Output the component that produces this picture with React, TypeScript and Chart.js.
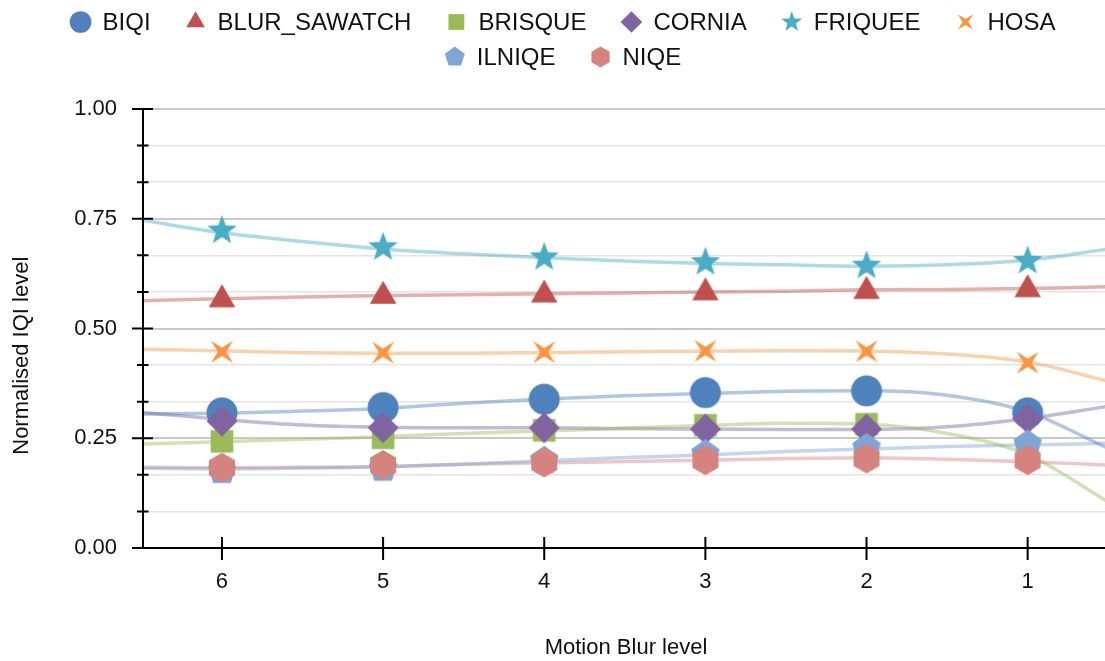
import React, { useEffect, useRef } from 'react';
import { Chart, registerables } from 'chart.js';

Chart.register(...registerables);

// ---------- data ----------
const METHODS = ['BIQI', 'BLUR_SAWATCH', 'BRISQUE', 'CORNIA', 'FRIQUEE', 'HOSA', 'ILNIQE', 'NIQE'];
const COLORS = ['#4F81BD', '#C0504D', '#9BBB59', '#8064A2', '#4BACC6', '#F79646', '#7FA5D5', '#D5837F'];
const SHAPES = ['circle', 'triangle', 'square', 'diamond', 'star', 'star4', 'pentagon', 'hexagon'];

const BLUR_LEVELS = [6, 5, 4, 3, 2, 1];
const X_TICK_LABELS = ['6', '5', '4', '3', '2', '1'];

const BIQI = [0.308, 0.320, 0.339, 0.354, 0.358, 0.308];
const BLUR_SAWATCH = [0.566, 0.574, 0.577, 0.582, 0.585, 0.589];
const BRISQUE = [0.243, 0.251, 0.268, 0.2795, 0.282, 0.225];
const CORNIA = [0.289, 0.274, 0.274, 0.271, 0.271, 0.295];
const FRIQUEE = [0.723, 0.685, 0.662, 0.651, 0.643, 0.654];
const HOSA = [0.447, 0.445, 0.446, 0.449, 0.448, 0.422];
const ILNIQE = [0.176, 0.181, 0.199, 0.214, 0.228, 0.236];
const NIQE = [0.183, 0.189, 0.195, 0.200, 0.204, 0.200];

// fitted trend curves
const FIT_X = [6.5, 6, 5.5, 5, 4.5, 4, 3.5, 3, 2.5, 2, 1.5, 1, 0.5];
const BIQI_FIT = [0.305, 0.307, 0.312, 0.318, 0.330, 0.339, 0.347, 0.352, 0.357, 0.358, 0.348, 0.310, 0.227];
const BLUR_SAWATCH_FIT = [0.563, 0.568, 0.572, 0.575, 0.577, 0.579, 0.581, 0.583, 0.585, 0.588, 0.589, 0.591, 0.595];
const BRISQUE_FIT = [0.237, 0.242, 0.248, 0.2535, 0.261, 0.2665, 0.273, 0.279, 0.284, 0.282, 0.261, 0.212, 0.105];
const CORNIA_FIT = [0.309, 0.293, 0.280, 0.275, 0.274, 0.274, 0.272, 0.271, 0.270, 0.270, 0.276, 0.295, 0.323];
const FRIQUEE_FIT = [0.747, 0.718, 0.698, 0.681, 0.670, 0.661, 0.654, 0.648, 0.645, 0.642, 0.645, 0.656, 0.681];
const HOSA_FIT = [0.453, 0.449, 0.445, 0.4435, 0.4435, 0.445, 0.447, 0.448, 0.4495, 0.449, 0.442, 0.424, 0.380];
const ILNIQE_FIT = [0.1815, 0.180, 0.182, 0.185, 0.191, 0.199, 0.206, 0.212, 0.220, 0.2255, 0.231, 0.2346, 0.2385];
const NIQE_FIT = [0.184, 0.183, 0.184, 0.185, 0.191, 0.194, 0.197, 0.1997, 0.204, 0.2057, 0.202, 0.1966, 0.189];

const MARKER_SERIES = [BIQI, BLUR_SAWATCH, BRISQUE, CORNIA, FRIQUEE, HOSA, ILNIQE, NIQE];
const FIT_SERIES = [BIQI_FIT, BLUR_SAWATCH_FIT, BRISQUE_FIT, CORNIA_FIT, FRIQUEE_FIT, HOSA_FIT, ILNIQE_FIT, NIQE_FIT];

const Y_TICKS = [0, 1 / 12, 2 / 12, 3 / 12, 4 / 12, 5 / 12, 6 / 12, 7 / 12, 8 / 12, 9 / 12, 10 / 12, 11 / 12, 1];
const Y_LABELLED = [0, 0.25, 0.5, 0.75, 1];

const X_TITLE = 'Motion Blur level';
const Y_TITLE = 'Normalised IQI level';

// ---------- styling helpers ----------
const W = 1105;
const H = 661;
const FONT = '"Liberation Sans", Arial, Helvetica, sans-serif';
const TEXT = '#111111';

function isLabelled(v: number) {
  return Y_LABELLED.some((m) => Math.abs(m - v) < 1e-6);
}

function rgba(hex: string, a: number) {
  const n = parseInt(hex.slice(1), 16);
  return `rgba(${(n >> 16) & 255},${(n >> 8) & 255},${n & 255},${a})`;
}

function polygon(ctx: CanvasRenderingContext2D, cx: number, cy: number, radii: number[], startDeg: number) {
  const n = radii.length;
  for (let k = 0; k < n; k++) {
    const a = ((startDeg + (360 / n) * k) * Math.PI) / 180;
    const px = cx + radii[k] * Math.cos(a);
    const py = cy + radii[k] * Math.sin(a);
    if (k === 0) ctx.moveTo(px, py);
    else ctx.lineTo(px, py);
  }
  ctx.closePath();
}

function drawShape(ctx: CanvasRenderingContext2D, shape: string, cx: number, cy: number, s: number, color: string) {
  ctx.save();
  ctx.fillStyle = color;
  ctx.beginPath();
  switch (shape) {
    case 'circle':
      ctx.arc(cx, cy, 15.5 * s, 0, Math.PI * 2);
      break;
    case 'triangle':
      polygon(ctx, cx, cy, [15.3 * s, 15.3 * s, 15.3 * s], -90);
      break;
    case 'square': {
      const h = 11.3 * s;
      ctx.rect(cx - h, cy - h, 2 * h, 2 * h);
      break;
    }
    case 'diamond':
      polygon(ctx, cx, cy, [15.5 * s, 15.5 * s, 15.5 * s, 15.5 * s], -90);
      break;
    case 'star': {
      const r: number[] = [];
      for (let k = 0; k < 10; k++) r.push(k % 2 === 0 ? 15.5 * s : 6.4 * s);
      polygon(ctx, cx, cy, r, -90);
      break;
    }
    case 'star4': {
      const r: number[] = [];
      for (let k = 0; k < 8; k++) r.push(k % 2 === 0 ? 15.5 * s : 4.2 * s);
      polygon(ctx, cx, cy, r, -45);
      break;
    }
    case 'pentagon':
      polygon(ctx, cx, cy, [15, 15, 15, 15, 15].map((v) => v * s), -90);
      break;
    case 'hexagon':
      polygon(ctx, cx, cy, [15, 15, 15, 15, 15, 15].map((v) => v * s), -90);
      break;
  }
  ctx.fill();
  ctx.restore();
}

function makeMarker(shape: string, color: string): HTMLCanvasElement {
  const c = document.createElement('canvas');
  c.width = 36;
  c.height = 36;
  const ctx = c.getContext('2d')!;
  drawShape(ctx, shape, 18, 18, 1, color);
  return c;
}

// ---------- plugins ----------
const decorPlugin = {
  id: 'decor',
  afterDatasetsDraw(chart: any) {
    const { ctx, chartArea } = chart;
    const xs = chart.scales.x;
    const ys = chart.scales.y;
    ctx.save();
    ctx.strokeStyle = '#000';
    ctx.lineWidth = 2;
    ctx.beginPath();
    ctx.moveTo(chartArea.left, chartArea.top);
    ctx.lineTo(chartArea.left, chartArea.bottom);
    ctx.moveTo(chartArea.left - 11, chartArea.bottom);
    ctx.lineTo(chartArea.right, chartArea.bottom);
    Y_TICKS.forEach((v) => {
      const py = ys.getPixelForValue(v);
      const major = isLabelled(v);
      ctx.moveTo(chartArea.left - (major ? 11 : 6), py);
      ctx.lineTo(chartArea.left + (major ? 10 : 5.5), py);
    });
    BLUR_LEVELS.forEach((v) => {
      const px = xs.getPixelForValue(v);
      ctx.moveTo(px, chartArea.bottom - 11);
      ctx.lineTo(px, chartArea.bottom + 12);
    });
    ctx.stroke();
    ctx.restore();
  },
  afterDraw(chart: any) {
    const { ctx, chartArea, width } = chart;
    ctx.save();
    ctx.fillStyle = TEXT;
    // axis titles
    ctx.font = `22px ${FONT}`;
    ctx.textAlign = 'center';
    ctx.textBaseline = 'middle';
    ctx.fillText(X_TITLE, (chartArea.left + chartArea.right) / 2 + 2, 648);
    ctx.save();
    ctx.translate(22, chartArea.top + (chartArea.bottom - chartArea.top) * 0.562);
    ctx.rotate(-Math.PI / 2);
    ctx.fillText(Y_TITLE, 0, 0);
    ctx.restore();

    // legend
    ctx.font = `24px ${FONT}`;
    ctx.textAlign = 'left';
    const box = 22;
    const gap = 11;
    const spacing = 34;
    const maxW = width;
    const items = METHODS.map((m) => box + gap + ctx.measureText(m).width);
    const rows: number[][] = [[]];
    let rowW = 0;
    items.forEach((w, i) => {
      const cur = rows[rows.length - 1];
      const add = cur.length ? spacing + w : w;
      if (cur.length && rowW + add > maxW) {
        rows.push([i]);
        rowW = w;
      } else {
        cur.push(i);
        rowW += add;
      }
    });
    const centerX = width / 2 + 10;
    rows.forEach((row, r) => {
      const total = row.reduce((acc, i) => acc + items[i], 0) + spacing * (row.length - 1);
      let x = centerX - total / 2;
      const y = 22 + r * 35;
      row.forEach((i) => {
        drawShape(ctx, SHAPES[i], x + box / 2, y, 0.7, COLORS[i]);
        ctx.fillStyle = TEXT;
        ctx.fillText(METHODS[i], x + box + gap, y + 1);
        x += items[i] + spacing;
      });
    });
    ctx.restore();
  },
};

// ---------- component ----------
export default function App() {
  const canvasRef = useRef<HTMLCanvasElement | null>(null);

  useEffect(() => {
    document.body.style.margin = '0';
    document.body.style.overflow = 'hidden';
    const canvas = canvasRef.current;
    if (!canvas) return;
    canvas.width = W;
    canvas.height = H;

    const markerSets = METHODS.map((name, i) => ({
      type: 'scatter' as const,
      label: name,
      data: BLUR_LEVELS.map((x, k) => ({ x, y: MARKER_SERIES[i][k] })),
      pointStyle: makeMarker(SHAPES[i], COLORS[i]),
      pointRadius: 15,
      pointHoverRadius: 15,
      backgroundColor: COLORS[i],
      borderColor: COLORS[i],
      showLine: false,
      order: METHODS.length - i,
    }));

    const fitSets = METHODS.map((name, i) => ({
      type: 'line' as const,
      label: name + ' fit',
      data: FIT_X.map((x, k) => ({ x, y: FIT_SERIES[i][k] })),
      borderColor: rgba(COLORS[i], 0.45),
      borderWidth: 3.5,
      pointRadius: 0,
      pointHoverRadius: 0,
      fill: false,
      cubicInterpolationMode: 'monotone' as const,
      clip: 0,
      order: 100,
    }));

    const chart = new Chart(canvas, {
      type: 'scatter',
      data: { datasets: [...markerSets, ...fitSets] as any },
      options: {
        animation: false,
        responsive: false,
        maintainAspectRatio: false,
        devicePixelRatio: 1,
        events: [],
        layout: { autoPadding: false, padding: { top: 109, left: 0, right: 0, bottom: 0 } },
        plugins: {
          legend: { display: false },
          tooltip: { enabled: false },
          title: { display: false },
        },
        scales: {
          x: {
            type: 'linear',
            reverse: true,
            min: 0.52,
            max: 6.49,
            afterBuildTicks: (s: any) => {
              s.ticks = BLUR_LEVELS.map((v) => ({ value: v }));
            },
            afterFit: (s: any) => {
              s.height = 113;
              s.paddingLeft = 0;
              s.paddingRight = 0;
            },
            grid: { display: false, drawTicks: false },
            border: { display: false },
            ticks: {
              autoSkip: false,
              maxRotation: 0,
              padding: 21,
              color: TEXT,
              font: { family: FONT, size: 22 },
              callback: (v: any) => {
                const idx = BLUR_LEVELS.indexOf(Number(v));
                return idx >= 0 ? X_TICK_LABELS[idx] : '';
              },
            },
          },
          y: {
            type: 'linear',
            min: 0,
            max: 1,
            afterBuildTicks: (s: any) => {
              s.ticks = Y_TICKS.map((v) => ({ value: v }));
            },
            afterFit: (s: any) => {
              s.width = 143;
            },
            border: { display: false },
            grid: {
              drawTicks: false,
              color: (c: any) => (isLabelled(c.tick?.value) ? '#c9c9c9' : '#e4e4e4'),
              lineWidth: (c: any) => (isLabelled(c.tick?.value) ? 2 : 1.5),
            },
            ticks: {
              autoSkip: false,
              padding: 26,
              color: TEXT,
              font: { family: FONT, size: 22 },
              callback: (v: any) => (isLabelled(Number(v)) ? Number(v).toFixed(2) : ''),
            },
          },
        },
      },
      plugins: [decorPlugin],
    });

    return () => chart.destroy();
  }, []);

  return (
    <div style={{ width: W, height: H, position: 'relative' }}>
      <canvas ref={canvasRef} width={W} height={H} style={{ display: 'block', width: W, height: H }} />
    </div>
  );
}
